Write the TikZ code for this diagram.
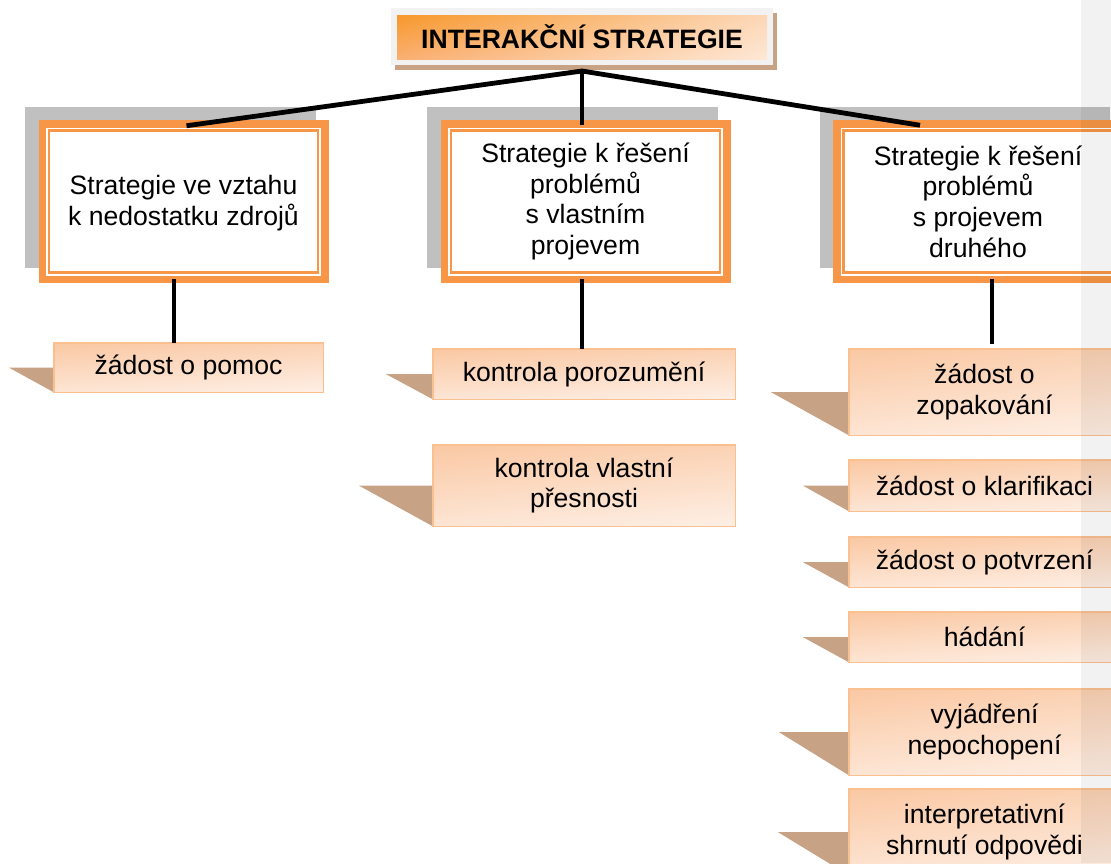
\documentclass[tikz,border=0pt]{standalone}
\usepackage{fontspec}
\setmainfont{Liberation Sans}
\usetikzlibrary{shadings,backgrounds}

\definecolor{accent}{HTML}{F79646}
\definecolor{shadowgray}{HTML}{C0C0C0}
\definecolor{tailtan}{HTML}{C8A285}
\definecolor{leafedge}{HTML}{FAC090}
\definecolor{framegray}{HTML}{F2F2F2}
\definecolor{titleA}{HTML}{F7931E}
\definecolor{titleB}{HTML}{FCD5B4}
\definecolor{titleC}{HTML}{FAB27B}
\definecolor{titleD}{HTML}{FEEBDB}
\definecolor{leafA}{HTML}{FAC8A3}
\definecolor{leafB}{HTML}{FBD2B4}
\definecolor{leafC}{HTML}{FDE5D4}
\definecolor{leafD}{HTML}{FEEFE5}

\tikzset{
  txt/.style={font=\fontsize{26.6pt}{30.6pt}\selectfont, align=center, text=black,
              inner sep=0pt, outer sep=0pt},
  titlebox/.style={txt, font=\fontsize{26.6pt}{30.6pt}\selectfont\bfseries,
              fill=framegray, minimum width=382pt, minimum height=57pt,
              path picture={\shade[upper left=titleA, upper right=titleB,
                                   lower left=titleC, lower right=titleD]
                ([shift={(6,7)}]path picture bounding box.north west) rectangle
                ([shift={(-6,-6)}]path picture bounding box.south east);}},
  mainbox/.style={txt, draw=accent, line width=7.5pt, fill=white,
              minimum width=282.5pt, minimum height=155.5pt},
  innerline/.style={draw=accent, line width=2.2pt},
  leaf/.style={txt, draw=leafedge, line width=1.5pt,
              shade, upper left=leafA, upper right=leafB,
              lower left=leafC, lower right=leafD},
  leafL/.style={leaf, minimum width=269.5pt},
  leafM/.style={leaf, minimum width=302.5pt},
  leafR/.style={leaf, minimum width=271.5pt},
  conn/.style={draw=black, line width=4.8pt},
}

% brown fold on the left of a leaf box: node, width
\newcommand\leaftail[2]{\fill[tailtan] (#1.west) -- ++(-#2,0) -- (#1.south west) -- cycle;}
% thin inner frame of a main box
\newcommand\innerframe[1]{\draw[innerline] ([shift={(6.75,6.75)}]#1.north west) rectangle ([shift={(-6.75,-6.75)}]#1.south east);}

\begin{document}
\begin{tikzpicture}[x=1pt, y=-1pt]
\useasboundingbox (0,0) rectangle (1111,863);
\clip (0,0) rectangle (1111,863);

% title
\node[titlebox] (t) at (582,36.5) {INTERAKČNÍ STRATEGIE};

% three strategy groups
\node[mainbox] (m1) at (183.5,201.5) {\rule{0pt}{22pt}Strategie ve vztahu\\k nedostatku zdrojů};
\node[mainbox] (m2) at (585.5,201.5) {Strategie k řešení\\problémů\\s vlastním\\projevem};
\node[mainbox] (m3) at (978,201.5) {Strategie k řešení\\problémů\\s projevem\\druhého};
\innerframe{m1}
\innerframe{m2}
\innerframe{m3}

% individual strategies
\node[leafL, minimum height=49.5pt] (l1) at (188.5,367.5) {žádost o pomoc};
\node[leafM, minimum height=50.5pt] (l2) at (584,374) {kontrola porozumění};
\node[leafM, minimum height=81.5pt] (l3) at (584,485.5) {kontrola vlastní\\přesnosti};
\node[leafR, minimum height=86.5pt] (r1) at (984.5,392) {žádost o\\zopakování};
\node[leafR, minimum height=51.5pt] (r2) at (984.5,485.5) {žádost o klarifikaci};
\node[leafR, minimum height=50.5pt] (r3) at (984.5,562) {žádost o potvrzení};
\node[leafR, minimum height=50.5pt] (r4) at (984.5,637) {hádání};
\node[leafR, minimum height=86.5pt] (r5) at (984.5,732) {vyjádření\\nepochopení};
\node[leafR, minimum height=86.5pt] (r6) at (984.5,832) {interpretativní\\shrnutí odpovědi};

\begin{pgfonlayer}{background}
  \fill[tailtan] ([shift={(4,5)}]t.north west) rectangle ([shift={(4,5)}]t.south east);
  \foreach \n in {m1,m2,m3}
    \fill[shadowgray] ([shift={(-17,-17)}]\n.north west) rectangle ([shift={(-9,-11)}]\n.south east);
  \leaftail{l1}{45}
  \leaftail{l2}{47}
  \leaftail{l3}{74}
  \leaftail{r1}{78}
  \leaftail{r2}{46}
  \leaftail{r3}{46}
  \leaftail{r4}{46}
  \leaftail{r5}{70}
  \leaftail{r6}{71}
\end{pgfonlayer}

% connectors
\coordinate (hub) at ([shift={(0,6)}]t.south);
\draw[conn] ([shift={(3,2)}]m1.north) -- (hub) -- ([shift={(-58,1.5)}]m3.north);
\draw[conn] (hub) -- ([shift={(-3.5,1.5)}]m2.north);
\draw[conn] ([xshift=-9.5pt]m1.south) -- ([xshift=-9.5pt]m1.south |- l1.north);
\draw[conn] ([xshift=-3.5pt]m2.south) -- ([xshift=-3.5pt]m2.south |- l2.north);
\draw[conn] ([xshift=14pt]m3.south) -- ([shift={(14,-5)}]m3.south |- r1.north);

% light margin band on the right
\fill[black, fill opacity=0.05] (1081,0) rectangle (1111,863);
\end{tikzpicture}
\end{document}
